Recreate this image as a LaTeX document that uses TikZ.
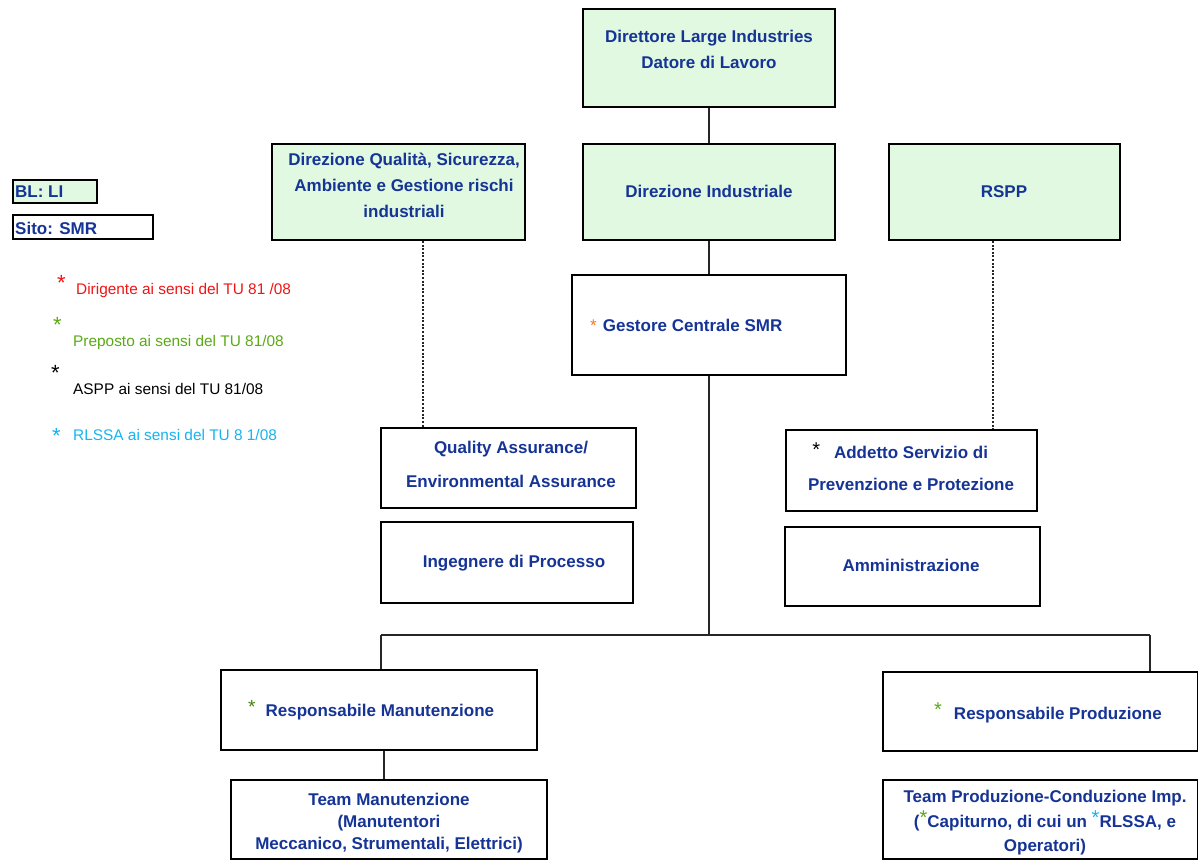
\documentclass[tikz,border=0pt]{standalone}
\usepackage{fontspec}
\setmainfont{Liberation Sans}
\definecolor{tblue}{RGB}{22,52,150}
\definecolor{lgreen}{RGB}{224,249,224}
\definecolor{sgreen}{RGB}{90,170,20}
\definecolor{sblue}{RGB}{20,180,240}
\definecolor{sorange}{RGB}{250,120,30}
\definecolor{sred}{RGB}{240,20,20}
\tikzset{
  box/.style={draw=black, line width=2pt, fill=white, rectangle, inner sep=0pt},
  gbox/.style={box, fill=lgreen},
  btxt/.style={text=tblue, align=center, font=\fontsize{17}{26}\selectfont\bfseries, inner sep=0pt},
  conn/.style={line width=1.5pt, draw=black!85},
  dotconn/.style={line width=2.2pt, draw=black!85, dash pattern=on 2pt off 1.6pt},
  legtxt/.style={anchor=base west, font=\fontsize{15.4}{18}\selectfont, inner sep=0pt},
  legstar/.style={anchor=base west, font=\fontsize{22}{22}\selectfont, inner sep=0pt},
}
\newcommand{\cstar}[3]{\raisebox{#3}{\textcolor{#1}{\fontsize{#2}{10}\selectfont\mdseries *}}}
\begin{document}
\begin{tikzpicture}[x=1pt,y=-1pt]
\useasboundingbox (0,0) rectangle (1198,859);
% boxes
\node[gbox, minimum width=252pt, minimum height=98pt] (dir) at (709,58) {};
\node[btxt] (dirT) at (709,49.5) {Direttore Large Industries\\Datore di Lavoro};
\node[gbox, minimum width=253pt, minimum height=96pt] (dq) at (398.5,192) {};
\node[btxt] (dqT) at (404,185.5) {Direzione Qualità, Sicurezza,\\Ambiente e Gestione rischi\\industriali};
\node[gbox, minimum width=252pt, minimum height=96pt] (di) at (709,192) {};
\node[btxt] (diT) at (709,191.5) {Direzione Industriale};
\node[gbox, minimum width=231pt, minimum height=96pt] (rspp) at (1004.5,192) {};
\node[btxt] (rsppT) at (1004,191.5) {RSPP};
\node[gbox, minimum width=84pt, minimum height=23pt, line width=1.5pt] (bl) at (55,191.5) {};
\node[btxt, anchor=west] (blT) at (15,192) {BL: LI};
\node[box, minimum width=140pt, minimum height=24pt, line width=1.5pt] (sito) at (83,227) {};
\node[btxt, anchor=west] (sitoT) at (15,228) {Sito: SMR};
\node[box, minimum width=274pt, minimum height=100pt] (gest) at (709,325) {};
\node[btxt, anchor=west] (gestT) at (590,325.5) {\cstar{sorange}{17}{0pt}\hspace{6pt}Gestore Centrale SMR};
\node[box, minimum width=255pt, minimum height=80pt] (qa) at (508.5,468) {};
\node[btxt, font=\fontsize{17}{34}\selectfont\bfseries] (qaT) at (511,464) {Quality Assurance/\\Environmental Assurance};
\node[box, minimum width=252pt, minimum height=81pt] (ing) at (507,562.5) {};
\node[btxt] (ingT) at (514,563.5) {Ingegnere di Processo};
\node[box, minimum width=251pt, minimum height=81pt] (asp) at (911.5,470.5) {};
\node[btxt, font=\fontsize{17}{32}\selectfont\bfseries] (aspT) at (911,466.5) {\llap{\cstar{black}{20}{2pt}\hspace{14pt}}Addetto Servizio di\\Prevenzione e Protezione};
\node[box, minimum width=255pt, minimum height=79pt] (amm) at (912.5,566.5) {};
\node[btxt] (ammT) at (911,565.5) {Amministrazione};
\node[box, minimum width=316pt, minimum height=80pt] (rm) at (379,710) {};
\node[btxt, anchor=west] (rmT) at (248,710.5) {\cstar{sgreen!75!black}{19}{3pt}\hspace{10pt}Responsabile Manutenzione};
\node[box, minimum width=315pt, minimum height=79pt] (rp) at (1040.5,711.5) {};
\node[btxt, anchor=west] (rpT) at (934,712.5) {\cstar{sgreen}{20}{3pt}\hspace{12pt}Responsabile Produzione};
\node[box, minimum width=316pt, minimum height=79pt] (tm) at (389,819.5) {};
\node[btxt, font=\fontsize{17}{22}\selectfont\bfseries] (tmT) at (389,823.5) {Team Manutenzione\\(Manutentori\\Meccanico, Strumentali, Elettrici)};
\node[box, minimum width=315pt, minimum height=79pt] (tp) at (1040.5,819.5) {};
\node[btxt, font=\fontsize{17}{24.5}\selectfont\bfseries] (tpT) at (1045,823) {Team Produzione-Conduzione Imp.\\(\cstar{sgreen}{20}{3pt}Capiturno, di cui un \cstar{sblue}{20}{3pt}RLSSA, e\\Operatori)};
% connectors
\draw[conn] (dir.south) -- (di.north);
\draw[conn] (di.south) -- (gest.north);
\coordinate (hj) at (709,635);
\coordinate (hl) at (381,635);
\coordinate (hr) at (1150,635);
\draw[conn] (gest.south) -- (hj);
\draw[conn] (hl) -- (hr);
\draw[conn] (hl) -- (hl |- rm.north);
\draw[conn] (hr) -- (hr |- rp.north);
\draw[conn] (rm.south -| 384,0) -- (tm.north -| 384,0);
\draw[dotconn] (dq.south -| 423,0) -- (qa.north -| 423,0);
\draw[dotconn] (rspp.south -| 993,0) -- (asp.north -| 993,0);
% legend
\node[legstar, text=sred] (s1) at (57,290) {*};
\node[legtxt, text=sred] (l1) at (76,294) {Dirigente ai sensi del TU 81 /08};
\node[legstar, text=sgreen] (s2) at (53,332) {*};
\node[legtxt, text=sgreen] (l2) at (73,346) {Preposto ai sensi del TU 81/08};
\node[legstar, text=black] (s3) at (51,380) {*};
\node[legtxt, text=black] (l3) at (73,394) {ASPP ai sensi del TU 81/08};
\node[legstar, text=sblue] (s4) at (52,443) {*};
\node[legtxt, text=sblue] (l4) at (73,440) {RLSSA ai sensi del TU 8 1/08};
\end{tikzpicture}
\end{document}
